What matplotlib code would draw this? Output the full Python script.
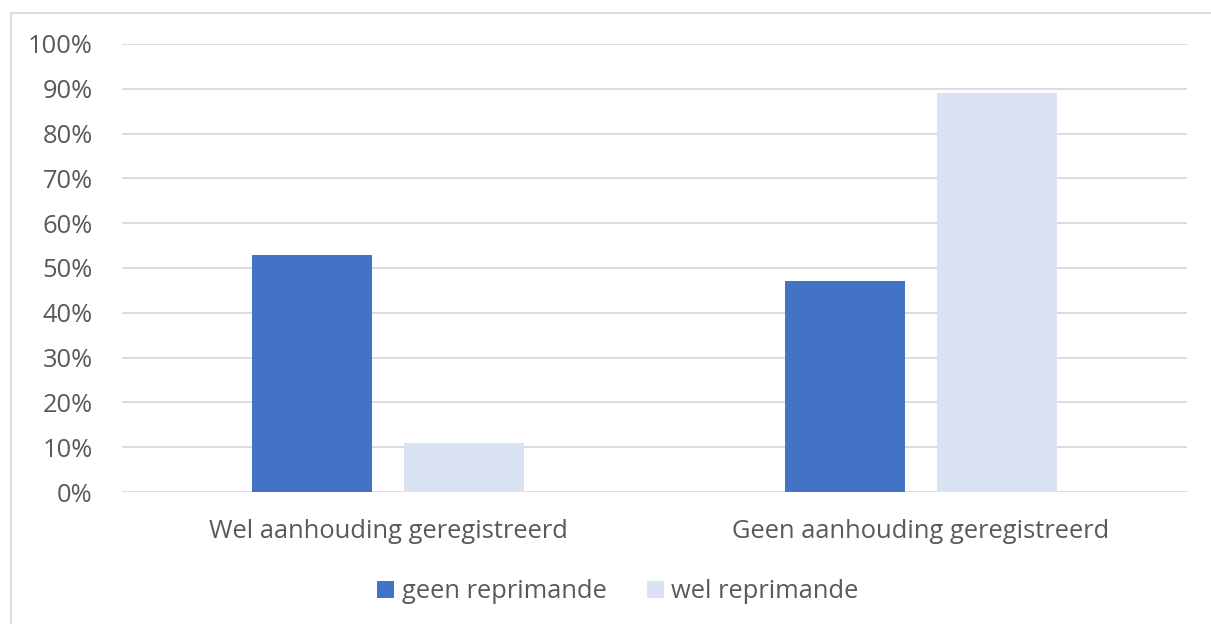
import matplotlib
matplotlib.use("Agg")
import matplotlib.pyplot as plt
from matplotlib.patches import Rectangle, Patch
import numpy as np

categories = ["Wel aanhouding geregistreerd", "Geen aanhouding geregistreerd"]
series_names = ["geen reprimande", "wel reprimande"]
geen_reprimande = [53, 47]
wel_reprimande = [11, 89]
y_ticks = [0, 10, 20, 30, 40, 50, 60, 70, 80, 90, 100]
y_tick_labels = [f"{t}%" for t in y_ticks]

colors = ["#4472C4", "#DAE3F3"]
text_color = "#595959"
grid_color = "#D9D9D9"

plt.rcParams['font.family'] = ['Open Sans', 'DejaVu Sans']
FS = 18.4

W, H = 1211, 624
fig = plt.figure(figsize=(W / 100, H / 100), dpi=100)

left, right, top, bottom = 122, 1187, 44, 492
ax = fig.add_axes([left / W, 1 - bottom / H, (right - left) / W, (bottom - top) / H])

x = np.arange(len(categories))
width = 0.225
offset = 0.143
ax.bar(x - offset, geen_reprimande, width, color=colors[0], label=series_names[0], zorder=3)
ax.bar(x + offset, wel_reprimande, width, color=colors[1], label=series_names[1], zorder=3)

ax.set_xlim(-0.5, len(categories) - 0.5)
ax.set_ylim(0, 100)
ax.set_yticks(y_ticks)
ax.set_yticklabels(y_tick_labels)
ax.set_xticks(x)
ax.set_xticklabels(categories)
ax.yaxis.grid(True, color=grid_color, linewidth=1.3, zorder=0)
ax.set_axisbelow(True)
for s in ax.spines.values():
    s.set_visible(False)
ax.tick_params(axis='both', length=0, labelsize=FS, colors=text_color)
ax.tick_params(axis='y', pad=21)
ax.tick_params(axis='x', pad=19.5)

handles = [Patch(facecolor=colors[0]), Patch(facecolor=colors[1])]
leg = fig.legend(handles, series_names, loc='center', bbox_to_anchor=(618 / W, 1 - 592 / H),
                 ncol=2, frameon=False, fontsize=FS, handlelength=0.67, handleheight=0.67,
                 handletextpad=0.3, columnspacing=1.55)
for t in leg.get_texts():
    t.set_color(text_color)

fig.patches.append(Rectangle((11 / W, -0.05), 1.2, 1 - 13 / H + 0.05, transform=fig.transFigure,
                             fill=False, edgecolor=grid_color, linewidth=1.3))

fig.savefig("out.png", dpi=100, facecolor="white")
